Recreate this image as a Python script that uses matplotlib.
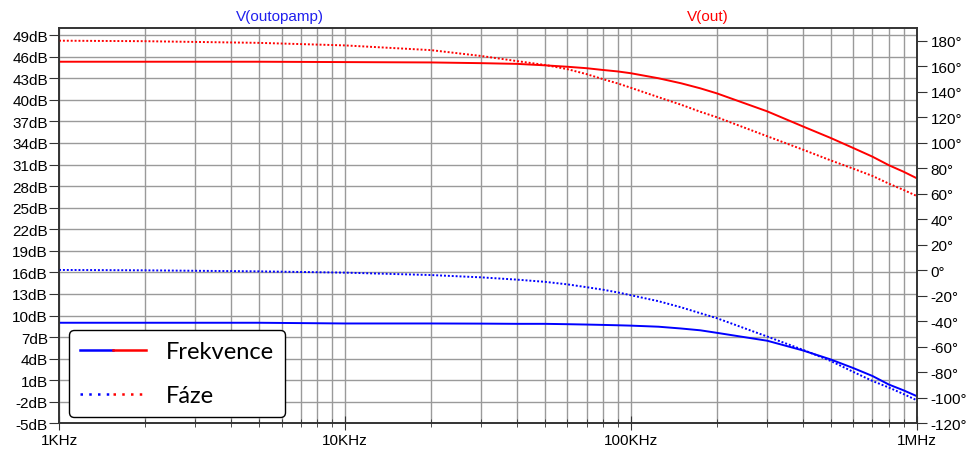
import matplotlib
matplotlib.use('Agg')
import matplotlib.pyplot as plt
from matplotlib.lines import Line2D
from matplotlib.legend_handler import HandlerTuple
from matplotlib.ticker import FixedLocator, NullFormatter
import numpy as np

plt.rcParams['font.family'] = ['Liberation Sans', 'DejaVu Sans']

# frequency points (Hz)
freq = [1e3, 2e3, 5e3, 1e4, 2e4, 3e4, 4e4, 5e4, 6e4, 7e4, 8e4, 9e4,
        1e5, 1.25e5, 1.5e5, 1.75e5, 2e5, 3e5, 4e5, 5e5, 6e5, 7e5, 8e5, 9e5, 1e6]

# V(out)
out_mag = [45.3, 45.3, 45.3, 45.25, 45.2, 45.1, 45.0, 44.8, 44.6, 44.4, 44.15, 43.95,
           43.7, 43.0, 42.3, 41.6, 40.9, 38.4, 36.3, 34.7, 33.3, 32.1, 30.9, 30.0, 29.1]
out_phase = [180.0, 179.6, 178.3, 176.3, 172.6, 168.0, 164.0, 161.0, 157.7, 153.8, 149.8, 146.5,
             143.1, 135.7, 129.8, 124.3, 120.0, 105.1, 94.6, 86.2, 79.7, 74.0, 67.9, 63.0, 58.3]

# V(outopamp)
amp_mag = [9.0, 9.0, 9.0, 8.9, 8.9, 8.88, 8.85, 8.85, 8.8, 8.75, 8.7, 8.65,
           8.6, 8.45, 8.2, 7.95, 7.6, 6.5, 5.15, 3.9, 2.7, 1.6, 0.4, -0.4, -1.2]
amp_phase = [0.3, 0.0, -0.8, -1.8, -3.7, -5.5, -7.3, -9.0, -11.0, -13.2, -15.2, -17.3,
             -19.5, -24.2, -29.0, -33.6, -37.5, -51.9, -62.3, -71.0, -79.6, -86.7, -91.9, -97.0, -101.8]

db_ticks = list(range(-5, 50, 3))
deg_ticks = list(range(-120, 181, 20))
x_ticks = [1e3, 1e4, 1e5, 1e6]
x_labels = ['1KHz', '10KHz', '100KHz', '1MHz']

RED = '#ff0000'
BLUE = '#0000ff'
GRID = '#9a9a9a'

fig = plt.figure(figsize=(9.68, 4.52), dpi=100)
ax = fig.add_axes([0.061, 0.061, 0.886, 0.875])
ax2 = ax.twinx()

ax.set_xscale('log')
ax.set_xlim(1e3, 1e6)
ax.set_ylim(-5, 50)
ax2.set_ylim(-120, 190)

# magnitude on the left (dB), phase on the right (deg)
ax.plot(freq, out_mag, color=RED, lw=1.4)
ax.plot(freq, amp_mag, color=BLUE, lw=1.4)
ax2.plot(freq, out_phase, color=RED, lw=1.4, linestyle=(0, (1, 1)))
ax2.plot(freq, amp_phase, color=BLUE, lw=1.4, linestyle=(0, (1, 1)))

# grid
minor = [m * d for d in [1e3, 1e4, 1e5] for m in range(2, 10)]
ax.xaxis.set_major_locator(FixedLocator(x_ticks))
ax.xaxis.set_minor_locator(FixedLocator(minor))
ax.xaxis.set_minor_formatter(NullFormatter())
ax.set_xticklabels(x_labels)
ax.set_yticks(db_ticks)
ax.set_yticklabels(['%ddB' % v for v in db_ticks])
ax2.set_yticks(deg_ticks)
ax2.set_yticklabels(['%d\u00b0' % v for v in deg_ticks])

ax.grid(True, which='major', axis='both', color=GRID, lw=1.0)
ax.grid(True, which='minor', axis='x', color=GRID, lw=1.0)
ax.set_axisbelow(True)

for a in (ax, ax2):
    for s in a.spines.values():
        s.set_color('#333333')
        s.set_linewidth(1.2)

ax.tick_params(axis='y', which='major', direction='out', length=7, pad=1,
               labelsize=11, color='#333333')
ax2.tick_params(axis='y', which='major', direction='out', length=7, pad=3,
                labelsize=11, color='#333333')
ax.tick_params(axis='x', which='major', direction='inout', length=10, pad=2,
               labelsize=11, color='#333333')
ax.tick_params(axis='x', which='minor', direction='inout', length=6, color='#333333')

# legend with split blue/red handles
h_mag = (Line2D([], [], color=BLUE, lw=1.8), Line2D([], [], color=RED, lw=1.8))
h_ph = (Line2D([], [], color=BLUE, lw=1.8, linestyle=(0, (1, 2.5))),
        Line2D([], [], color=RED, lw=1.8, linestyle=(0, (1, 2.5))))
leg = ax2.legend([h_mag, h_ph], ['Frekvence', 'F\u00e1ze'],
                 handler_map={tuple: HandlerTuple(ndivide=None, pad=0)},
                 loc='lower left', bbox_to_anchor=(0.012, 0.016), borderaxespad=0,
                 prop={'family': 'Lato', 'size': 17},
                 handlelength=2.8, handletextpad=0.85, labelspacing=1.0,
                 borderpad=0.45, fancybox=True, framealpha=1, edgecolor='black')
leg.get_frame().set_linewidth(1.0)

# trace names on top
fig.text(0.289, 0.962, 'V(outopamp)', color='#2020ee', fontsize=11, ha='center', va='center')
fig.text(0.731, 0.962, 'V(out)', color=RED, fontsize=11, ha='center', va='center')

fig.savefig('out.png', dpi=100)
